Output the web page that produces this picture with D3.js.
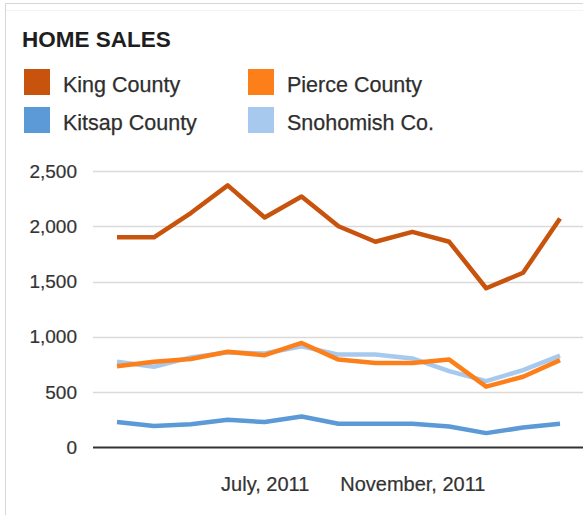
<!DOCTYPE html>
<html>
<head>
<meta charset="utf-8">
<script src="https://cdn.jsdelivr.net/npm/d3@7"></script>
<style>
  body { margin: 0; background: #fff; }
  svg { display: block; font-family: "Liberation Sans", Arial, sans-serif; }
</style>
</head>
<body>
<svg id="chart" width="583" height="515"></svg>
<script>
// months March 2011 .. March 2012
const months = ["March, 2011", "April, 2011", "May, 2011", "June, 2011", "July, 2011",
  "August, 2011", "September, 2011", "October, 2011", "November, 2011", "December, 2011",
  "January, 2012", "February, 2012", "March, 2012"];
const tickLabels = ["July, 2011", "November, 2011"];
const yTicks = [0, 500, 1000, 1500, 2000, 2500];

const seriesNames = ["King County", "Pierce County", "Kitsap County", "Snohomish Co."];
const king      = [1900, 1900, 2120, 2370, 2080, 2270, 2000, 1860, 1950, 1860, 1440, 1580, 2070];
const pierce    = [735, 775, 800, 865, 835, 945, 795, 765, 765, 795, 550, 640, 790];
const kitsap    = [230, 195, 210, 250, 230, 280, 215, 215, 215, 190, 130, 180, 215];
const snohomish = [775, 730, 815, 860, 850, 915, 840, 840, 805, 690, 600, 700, 830];

const colors = {
  "King County": "#c8530d",
  "Pierce County": "#fd7f1a",
  "Kitsap County": "#5b9ad6",
  "Snohomish Co.": "#a8c9ee"
};
const values = {
  "King County": king,
  "Pierce County": pierce,
  "Kitsap County": kitsap,
  "Snohomish Co.": snohomish
};

const svg = d3.select("#chart");

// frame
svg.append("rect")
  .attr("x", 5.5).attr("y", 3.5)
  .attr("width", 600).attr("height", 600)
  .attr("fill", "none")
  .attr("stroke", "#d6d6d6");
svg.append("line")
  .attr("x1", 6).attr("x2", 583).attr("y1", 10.5).attr("y2", 10.5)
  .attr("stroke", "#f4f4f4");

svg.append("text")
  .attr("x", 22).attr("y", 47)
  .attr("font-size", 22.5)
  .attr("font-weight", "bold")
  .attr("fill", "#1e1e1e")
  .text("HOME SALES");

// legend
const legend = svg.append("g");
seriesNames.forEach((name, i) => {
  const col = i % 2, row = Math.floor(i / 2);
  const g = legend.append("g")
    .attr("transform", `translate(${24 + col * 224},${69 + row * 38})`);
  g.append("rect")
    .attr("width", 26).attr("height", 26)
    .attr("fill", colors[name]);
  g.append("text")
    .attr("x", 39).attr("y", 22.5)
    .attr("font-size", 21.5)
    .attr("fill", "#2e2e2e")
    .attr("stroke", "#2e2e2e")
    .attr("stroke-width", 0.25)
    .text(name);
});

const plotLeft = 93, plotRight = 583;

const x = d3.scalePoint()
  .domain(months)
  .range([117, 560]);

const y = d3.scaleLinear()
  .domain([0, 2500])
  .range([447.5, 171]);

// gridlines
svg.append("g")
  .selectAll("line")
  .data(yTicks.filter(d => d > 0))
  .join("line")
  .attr("x1", plotLeft).attr("x2", plotRight)
  .attr("y1", d => Math.round(y(d)) + 0.5)
  .attr("y2", d => Math.round(y(d)) + 0.5)
  .attr("stroke", "#dadada")
  .attr("stroke-width", 1.5);

// y axis labels
const yAxis = svg.append("g")
  .attr("transform", `translate(${plotLeft - 16},0)`)
  .call(d3.axisLeft(y).tickValues(yTicks).tickSize(0).tickPadding(0).tickFormat(d3.format(",")));
yAxis.select(".domain").remove();
yAxis.selectAll("text")
  .attr("font-family", "'Liberation Sans', Arial, sans-serif")
  .attr("font-size", 19)
  .attr("fill", "#333")
  .attr("stroke", "#333")
  .attr("stroke-width", 0.2);

// x axis labels
const xAxis = svg.append("g")
  .attr("transform", `translate(0,${y(0)})`)
  .call(d3.axisBottom(x).tickValues(tickLabels).tickSize(0).tickPadding(29));
xAxis.select(".domain").remove();
xAxis.selectAll("text")
  .attr("font-family", "'Liberation Sans', Arial, sans-serif")
  .attr("font-size", 20)
  .attr("fill", "#333")
  .attr("stroke", "#333")
  .attr("stroke-width", 0.2);

const line = d3.line()
  .x((d, i) => x(months[i]))
  .y(d => y(d));

["Snohomish Co.", "Kitsap County", "Pierce County", "King County"].forEach(name => {
  svg.append("path")
    .datum(values[name])
    .attr("d", line)
    .attr("fill", "none")
    .attr("stroke", colors[name])
    .attr("stroke-width", 4.5)
    .attr("stroke-linejoin", "round");
});

// baseline
svg.append("line")
  .attr("x1", plotLeft).attr("x2", plotRight)
  .attr("y1", y(0)).attr("y2", y(0))
  .attr("stroke", "#333")
  .attr("stroke-width", 2);
</script>
</body>
</html>
